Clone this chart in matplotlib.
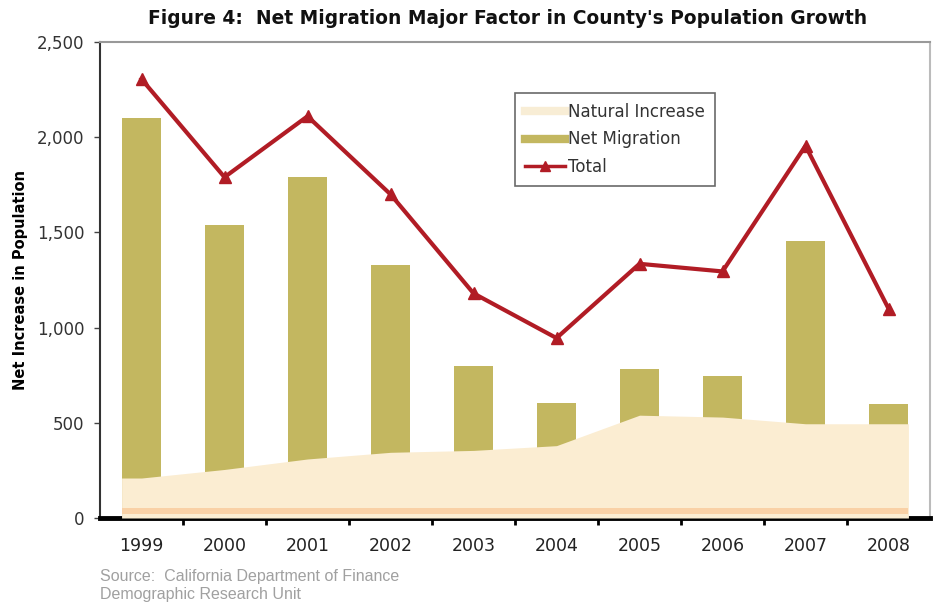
import numpy as np
import matplotlib
matplotlib.use("Agg")
import matplotlib.pyplot as plt
from matplotlib.ticker import FuncFormatter, FixedLocator
from matplotlib.lines import Line2D

# County population change by component
years = ["1999", "2000", "2001", "2002", "2003", "2004", "2005", "2006", "2007", "2008"]
natural_increase = [210, 255, 310, 345, 355, 380, 540, 530, 495, 495]
net_migration = [2100, 1540, 1790, 1330, 800, 605, 785, 745, 1455, 600]
total = [2305, 1790, 2110, 1700, 1180, 945, 1335, 1295, 1955, 1100]

bar_col = "#c3b760"
area_col = "#fbedd2"
band_col = "#f9d1a6"
line_col = "#b11c25"

fig = plt.figure(figsize=(9.36, 6.05), dpi=100)
ax = fig.add_axes([100 / 936, 87 / 605, 830 / 936, 476 / 605])

x = np.arange(len(years))
bw = 0.48

ax.bar(x, net_migration, width=bw, color=bar_col, zorder=2)

# natural increase area, stretched out to the outer bar edges
ax_x = np.concatenate([[x[0] - bw / 2], x, [x[-1] + bw / 2]])
ax_y = np.concatenate([[natural_increase[0]], natural_increase, [natural_increase[-1]]])
ax.fill_between(ax_x, 0, ax_y, color=area_col, lw=0, zorder=3)
ax.fill_between(ax_x, 20, 55, color=band_col, lw=0, zorder=3.1)

ax.plot(x, total, color=line_col, lw=3, marker="^", ms=9, zorder=4)

ax.set_xlim(-0.5, len(years) - 0.5)
ax.set_ylim(0, 2500)
ax.set_yticks(range(0, 2501, 500))
ax.yaxis.set_major_formatter(FuncFormatter(lambda v, p: f"{int(v):,}"))
ax.set_xticks(x)
ax.set_xticklabels(years)
ax.xaxis.set_minor_locator(FixedLocator(np.arange(0.5, len(years) - 0.5, 1)))
ax.tick_params(axis="x", which="major", length=0, pad=14, labelsize=12.5, colors="#222222")
ax.tick_params(axis="x", which="minor", length=5, width=2, color="black", direction="out")
ax.tick_params(axis="y", length=4, width=1, color="#444444", labelsize=12, labelcolor="#333333", pad=7)

ax.spines["bottom"].set_linewidth(3.5)
ax.spines["bottom"].set_color("black")
ax.spines["left"].set_linewidth(1.5)
ax.spines["left"].set_color("#333333")
ax.spines["top"].set_color("#999999")
ax.spines["top"].set_linewidth(1.5)
ax.spines["right"].set_color("#bbbbbb")
ax.spines["right"].set_linewidth(1.5)

ax.set_ylabel("Net Increase in Population", fontsize=10.5, fontweight="bold")
ax.yaxis.set_label_coords(-0.087, 0.5)

handles = [
    Line2D([], [], color="#f8edd5", lw=6),
    Line2D([], [], color=bar_col, lw=6),
    Line2D([], [], color=line_col, lw=2.5, marker="^", ms=7),
]
leg = ax.legend(handles, ["Natural Increase", "Net Migration", "Total"],
                loc="upper left", bbox_to_anchor=(0.49, 0.91), fontsize=12,
                frameon=True, fancybox=False, handlelength=2.4, handletextpad=0.2,
                labelspacing=0.55, borderpad=0.6)
leg.get_frame().set_edgecolor("#444444")
leg.get_frame().set_linewidth(1.2)
for t in leg.get_texts():
    t.set_color("#333333")

fig.text(508 / 936, 1 - 18 / 605, "Figure 4:  Net Migration Major Factor in County's Population Growth",
         ha="center", va="center", fontsize=13.4, fontweight="bold", color="#111111")
fig.text(100 / 936, 1 - 576 / 605, "Source:  California Department of Finance",
         ha="left", va="center", fontsize=11.5, color="#a0a0a0", family="Liberation Sans")
fig.text(100 / 936, 1 - 594 / 605, "Demographic Research Unit",
         ha="left", va="center", fontsize=11.5, color="#a0a0a0", family="Liberation Sans")

fig.savefig("out.png", dpi=100)
